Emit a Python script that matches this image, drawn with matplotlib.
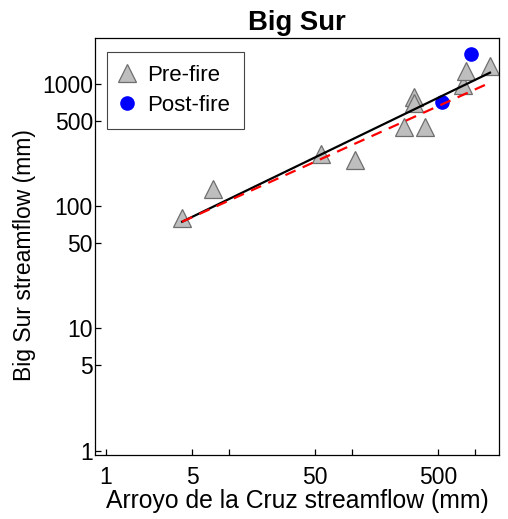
import matplotlib
matplotlib.use("Agg")
import matplotlib.pyplot as plt
from matplotlib.ticker import FixedLocator, FixedFormatter, NullLocator

plt.rcParams['font.family'] = ['Liberation Sans', 'DejaVu Sans']

# Data
pre_x = [4.16, 7.45, 56, 106, 265, 392, 321, 321, 804, 840, 1324]
pre_y = [79.5, 137, 267, 236, 442, 442, 784, 693, 977, 1279, 1399]
post_x = [536, 927]
post_y = [714, 1753]
fit_x = [4.16, 1324]
pre_fit_y = [74.5, 1233]
all_fit_y = [74.5, 1021]

x_ticks = [1, 5, 10, 50, 100, 500, 1000]
x_labels = ["1", "5", "", "50", "", "500", ""]
y_ticks = [1, 5, 10, 50, 100, 500, 1000]
y_labels = ["1", "5", "10", "50", "100", "500", "1000"]

fig = plt.figure(figsize=(5.08, 5.19), dpi=100)
ax = fig.add_axes([95/508, 1-455.3/519, 404/508, 417/519])

ax.plot(pre_x, pre_y, linestyle='none', marker='^', markersize=12.5,
        markerfacecolor='#BEBEBE', markeredgecolor='#6E6E6E', markeredgewidth=0.9,
        label='Pre-fire', zorder=2)
ax.plot(post_x, post_y, linestyle='none', marker='o', markersize=9.5,
        markerfacecolor='#0000FF', markeredgecolor='#0000FF', label='Post-fire', zorder=2)
ax.plot(fit_x, pre_fit_y, color='black', lw=1.6, zorder=3)
ax.plot(fit_x, all_fit_y, color='#FF0000', lw=1.6, dashes=(5, 3.5), zorder=3)

ax.set_xscale('log')
ax.set_yscale('log')
ax.set_xlim(0.814, 1567)
ax.set_ylim(0.917, 2355)

ax.xaxis.set_major_locator(FixedLocator(x_ticks))
ax.xaxis.set_major_formatter(FixedFormatter(x_labels))
ax.xaxis.set_minor_locator(NullLocator())
ax.yaxis.set_major_locator(FixedLocator(y_ticks))
ax.yaxis.set_major_formatter(FixedFormatter(y_labels))
ax.yaxis.set_minor_locator(NullLocator())

ax.tick_params(axis='both', direction='in', length=4, width=0.9, labelsize=16.5, colors='black')
ax.tick_params(axis='x', pad=8)
ax.tick_params(axis='y', pad=1.5)
for s in ax.spines.values():
    s.set_linewidth(0.9)
    s.set_color('black')

ax.set_xlabel('Arroyo de la Cruz streamflow (mm)', fontsize=17.8, labelpad=0)
ax.set_ylabel('Big Sur streamflow (mm)', fontsize=16.5)
ax.yaxis.set_label_coords((36 - 95) / 404, 0.48)
ax.set_title('Big Sur', fontsize=19.8, fontweight='bold', pad=6)

leg = ax.legend(loc='upper left', bbox_to_anchor=((107.3-95)/404, 1-(51.7-38.3)/417),
                borderaxespad=0, fancybox=False, framealpha=1, edgecolor='#444444',
                fontsize=16, handletextpad=0.6, labelspacing=0.4, borderpad=0.6,
                handlelength=0.6)
leg.get_frame().set_linewidth(0.8)

fig.savefig('out.png', dpi=100)
